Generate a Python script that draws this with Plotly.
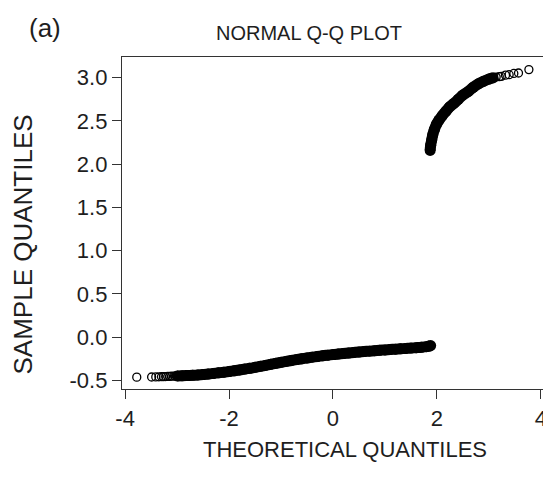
import plotly.graph_objects as go

# Lower branch of the Q-Q plot (theoretical quantile, sample quantile)
lower_x = [-3.776, -3.49, -3.41, -3.35, -3.30, -3.26, -3.22, -3.18, -3.14, -3.10, -3.05,
           -3.00, -2.9, -2.8, -2.7, -2.6, -2.5, -2.4, -2.3, -2.2, -2.1, -2.0, -1.9, -1.8,
           -1.7, -1.6, -1.5, -1.4, -1.3, -1.2, -1.1, -1.0, -0.9, -0.8, -0.7, -0.6, -0.5,
           -0.4, -0.3, -0.2, -0.1, 0.0, 0.1, 0.2, 0.3, 0.4, 0.5, 0.6, 0.7, 0.8, 0.9, 1.0,
           1.1, 1.2, 1.3, 1.4, 1.5, 1.6, 1.7, 1.8, 1.85, 1.88]
lower_y = [-0.463, -0.461, -0.460, -0.459, -0.458, -0.457, -0.456, -0.455, -0.454, -0.452, -0.451,
           -0.449, -0.447, -0.444, -0.441, -0.437, -0.432, -0.427, -0.420, -0.413, -0.406, -0.398,
           -0.389, -0.380, -0.370, -0.360, -0.349, -0.338, -0.327, -0.315, -0.303, -0.292, -0.281,
           -0.270, -0.260, -0.250, -0.241, -0.232, -0.224, -0.216, -0.209, -0.202, -0.196, -0.190,
           -0.184, -0.178, -0.172, -0.167, -0.162, -0.157, -0.152, -0.148, -0.143, -0.139, -0.135,
           -0.131, -0.127, -0.122, -0.117, -0.110, -0.104, -0.098]

# Upper branch
upper_x = [1.87, 1.88, 1.90, 1.92, 1.95, 1.99, 2.04, 2.10, 2.17, 2.24, 2.32, 2.41, 2.50,
           2.60, 2.70, 2.80, 2.90, 3.00, 3.08, 3.14, 3.20, 3.24, 3.32, 3.39, 3.48, 3.57, 3.77]
upper_y = [2.16, 2.22, 2.28, 2.34, 2.40, 2.46, 2.51, 2.56, 2.61, 2.66, 2.70, 2.75, 2.80,
           2.84, 2.89, 2.93, 2.96, 2.985, 3.00, 3.008, 3.013, 3.016, 3.03, 3.035, 3.05, 3.055, 3.094]

x_ticks = [-4, -2, 0, 2, 4]
y_ticks = [-0.5, 0.0, 0.5, 1.0, 1.5, 2.0, 2.5, 3.0]

title_text = "NORMAL Q-Q PLOT"
x_title = "THEORETICAL QUANTILES"
y_title = "SAMPLE QUANTILES"
panel_label = "(a)"

FONT = "Liberation Sans, Arial, sans-serif"
INK = "#1e1e1e"

# where the overplotting turns into a solid band
lo_dense = [(x, y) for x, y in zip(lower_x, lower_y) if x >= -3.0]
up_dense = [(x, y) for x, y in zip(upper_x, upper_y) if x <= 3.08]

fig = go.Figure()
for seg in (lo_dense, up_dense):
    fig.add_trace(go.Scatter(
        x=[p[0] for p in seg], y=[p[1] for p in seg], mode="lines+markers",
        line=dict(color="black", width=11, shape="spline"),
        marker=dict(symbol="circle", size=11, color="black", line=dict(width=0)),
        hoverinfo="skip", showlegend=False))

fig.add_trace(go.Scatter(
    x=lower_x + upper_x, y=lower_y + upper_y, mode="markers",
    marker=dict(symbol="circle-open", size=8, color="black", line=dict(width=1.3, color="black")),
    showlegend=False))

axis_common = dict(
    showline=True, linecolor="#333333", linewidth=1.3, mirror=True,
    ticks="outside", ticklen=9, tickwidth=1.3, tickcolor="#333333",
    showgrid=False, zeroline=False,
    tickfont=dict(family=FONT, size=22, color=INK),
)

# The page body adds an 8px offset; the figure is sized so no scrollbar appears
# and the margins put the plot box where the reference has it.
fig.update_layout(
    width=543, height=465,
    margin=dict(l=114, r=4, t=49, b=84),
    paper_bgcolor="white", plot_bgcolor="white",
    xaxis=dict(range=[-4.06, 4.08], tickvals=x_ticks, ticktext=[str(t) for t in x_ticks],
               **axis_common),
    yaxis=dict(range=[-0.60, 3.24], tickvals=y_ticks, ticktext=[f"{t:.1f}" for t in y_ticks],
               **axis_common),
    font=dict(family=FONT, color=INK),
    annotations=[
        dict(text=title_text, xref="paper", yref="paper", x=0.442, y=1.072,
             xanchor="center", yanchor="middle", showarrow=False,
             font=dict(family=FONT, size=20, color=INK)),
        dict(text=panel_label, xref="paper", yref="paper", x=-0.181, y=1.087,
             xanchor="center", yanchor="middle", showarrow=False,
             font=dict(family=FONT, size=26, color=INK)),
        dict(text=x_title, xref="paper", yref="paper", x=0.528, y=-0.182,
             xanchor="center", yanchor="middle", showarrow=False,
             font=dict(family=FONT, size=22, color=INK)),
        dict(text=y_title, xref="paper", yref="paper", x=-0.235, y=0.434,
             xanchor="center", yanchor="middle", showarrow=False, textangle=-90,
             font=dict(family=FONT, size=26, color=INK)),
    ],
)

fig.write_html("out.html")
